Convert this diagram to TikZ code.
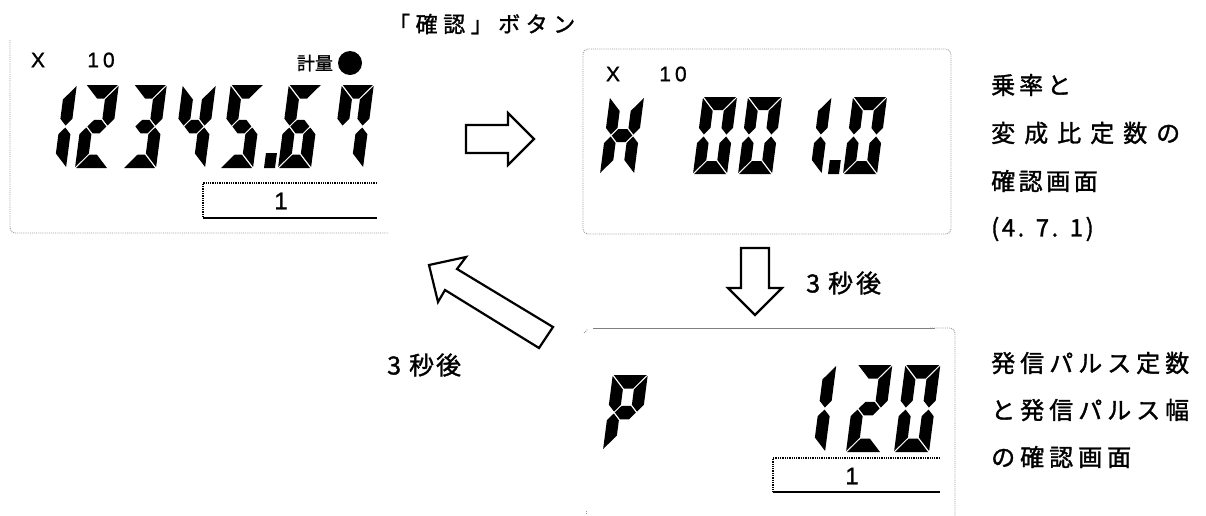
\documentclass[tikz,border=0pt]{standalone}
\usepackage{fontspec}
\setmainfont{Liberation Sans}[FakeBold=1.2]
\newfontfamily\jpf{Noto Sans CJK JP}[FakeBold=1.4]
\newdimen\lspamt
\def\lsp#1#2{\lspamt=#1pt\relax\lspaux#2\relax}
\def\lspaux#1{\ifx#1\relax\else#1\kern\lspamt\expandafter\lspaux\fi}
\def\slantk{-0.13}
% seven segment pieces (local coords, v up); Tv vertical, Th horizontal, Tm middle thickness
\newcommand\SgA{\fill ({\dg},{\dH}) -- ({\dW-\dg},{\dH}) -- ({\dW-\dTv-\dg},{\dH-\dTh}) -- ({\dTv+\dg},{\dH-\dTh}) -- cycle;}
\newcommand\SgD{\fill ({\dg},0) -- ({\dW-\dg},0) -- ({\dW-\dTv-\dg},{\dTh}) -- ({\dTv+\dg},{\dTh}) -- cycle;}
\newcommand\SgF{\fill (0,{\dH-\dg}) -- ({\dTv},{\dH-\dTh-\dg}) -- ({\dTv},{\dHh+\dTm/2+\dg}) -- ({\dTv/2},{\dHh+\dg}) -- (0,{\dHh+\dTm/2+\dg}) -- cycle;}
\newcommand\SgE{\fill (0,{\dg}) -- ({\dTv},{\dTh+\dg}) -- ({\dTv},{\dHh-\dTm/2-\dg}) -- ({\dTv/2},{\dHh-\dg}) -- (0,{\dHh-\dTm/2-\dg}) -- cycle;}
\newcommand\SgB{\fill ({\dW},{\dH-\dg}) -- ({\dW-\dTv},{\dH-\dTh-\dg}) -- ({\dW-\dTv},{\dHh+\dTm/2+\dg}) -- ({\dW-\dTv/2},{\dHh+\dg}) -- ({\dW},{\dHh+\dTm/2+\dg}) -- cycle;}
\newcommand\SgC{\fill ({\dW},{\dg}) -- ({\dW-\dTv},{\dTh+\dg}) -- ({\dW-\dTv},{\dHh-\dTm/2-\dg}) -- ({\dW-\dTv/2},{\dHh-\dg}) -- ({\dW},{\dHh-\dTm/2-\dg}) -- cycle;}
\newcommand\SgG{\fill ({\dTv/2+\dg},{\dHh}) -- ({\dTv+\dg},{\dHh+\dTm/2}) -- ({\dW-\dTv-\dg},{\dHh+\dTm/2}) -- ({\dW-\dTv/2-\dg},{\dHh}) -- ({\dW-\dTv-\dg},{\dHh-\dTm/2}) -- ({\dTv+\dg},{\dHh-\dTm/2}) -- cycle;}
\newcommand\SgP{\fill (0,0) rectangle ({\dW},{\dH});}
% \lcd{x0}{ybottom}{W}{H}{Tv}{Th}{segments}
\newcommand\lcd[7]{\begin{scope}[shift={(#1,#2)},yscale=-1,xslant=\slantk]
\def\dW{#3}\def\dH{#4}\def\dTv{#5}\def\dTh{#6}\def\dTm{#6}\def\dg{1.0}\pgfmathsetmacro\dHh{#4/2}#7\end{scope}}
\begin{document}
\begin{tikzpicture}[x=1pt,y=-1pt,
  panel/.style={draw=gray!80, densely dotted, line width=0.9pt},
  blockarrow/.style={draw=black, fill=white, line width=2.2pt, miter limit=10},
  lat/.style={font=\fontsize{21}{21}\selectfont, inner sep=0pt},
  boxone/.style={font=\fontsize{24}{24}\selectfont, inner sep=0pt},
  jpr/.style={font=\jpf\fontsize{24}{24}\selectfont, inner sep=0pt, anchor=west},
  jpb/.style={font=\jpf\fontsize{22}{22}\selectfont, inner sep=0pt, anchor=west},
  jps/.style={font=\jpf\fontsize{25}{25}\selectfont, inner sep=0pt, anchor=west},
  jpm/.style={font=\jpf\fontsize{18}{18}\selectfont, inner sep=0pt}]
\useasboundingbox (0,0) rectangle (1206,515);
% ---------- left panel ----------
\draw[panel, rounded corners=5pt] (10,40) -- (10,233) -- (388,233);
\node[lat] (lx) at (38,60) {X};
\node[lat] (l10) at (103,60) {\lsp{4}{10}};
\node[jpm] (keiryo) at (315,63) {計量};
\fill (350,63) circle (12);
\lcd{54}{168}{12}{83}{12}{13.5}{\SgB\SgC}
\lcd{75}{168}{33}{83}{12}{13.5}{\SgA\SgB\SgG\SgE\SgD}
\lcd{123}{168}{33}{83}{12}{13.5}{\SgA\SgB\SgG\SgC\SgD}
\lcd{172}{168}{33}{83}{12}{13.5}{\SgF\SgG\SgB\SgC}
\lcd{220}{168}{33}{83}{12}{13.5}{\SgA\SgF\SgG\SgC\SgD}
\lcd{264}{168}{11}{15}{10}{10}{\SgP}
\lcd{278}{168}{33}{83}{12}{13.5}{\SgA\SgF\SgG\SgE\SgD\SgC}
\lcd{331}{168}{32}{83}{12}{13.5}{\SgA\SgF\SgB\SgC}
\draw[densely dotted, line width=1.3pt] (377,183) -- (203,183) -- (203,218);
\draw[line width=1.8pt] (203,218) -- (377,218);
\node[boxone] (lone) at (281,201) {1};
% ---------- top label ----------
\node[jpb] (btn) at (388,24) {\lsp{5.5}{「確認」ボタン}};
% ---------- top right panel ----------
\draw[panel, rounded corners=5pt] (583,49) rectangle (951,234);
\node[lat] (rx) at (613,74) {X};
\node[lat] (r10) at (675,74) {\lsp{4}{10}};
\lcd{600}{174}{34}{77}{11.5}{13}{\SgF\SgE\SgB\SgC\SgG}
\lcd{693}{174}{34}{77}{11.5}{13}{\SgA\SgB\SgC\SgD\SgE\SgF}
\lcd{738}{174}{34}{77}{11.5}{13}{\SgA\SgB\SgC\SgD\SgE\SgF}
\lcd{810}{174}{11.5}{77}{11.5}{13}{\SgB\SgC}
\lcd{828}{174}{11}{14}{10}{10}{\SgP}
\lcd{843}{174}{34}{77}{11.5}{13}{\SgA\SgB\SgC\SgD\SgE\SgF}
% ---------- right texts ----------
\node[jpr] (t1) at (991,85) {\lsp{4}{乗率と}};
\node[jpr] (t2) at (991,133) {\lsp{9}{変成比定数の}};
\node[jpr] (t3) at (991,181) {\lsp{3.5}{確認画面}};
\node[jpr] (t4) at (991,229) {\lsp{2.5}{(4.}\kern9pt\lsp{2.5}{7.}\kern9pt\lsp{2.5}{1)}};
\node[jpr] (t5) at (991,363) {\lsp{5}{発信パルス定数}};
\node[jpr] (t6) at (991,410) {\lsp{5}{と発信パルス幅}};
\node[jpr] (t7) at (991,457) {\lsp{5}{の確認画面}};
% ---------- arrows ----------
\draw[blockarrow] (466,125) -- (508,125) -- (508,113) -- (534,139) -- (508,165) -- (508,153) -- (466,153) -- cycle;
\draw[blockarrow] (741,248) -- (769,248) -- (769,288) -- (782,288) -- (755,315) -- (728,288) -- (741,288) -- cycle;
\draw[blockarrow] (429,265) -- (466,257) -- (457,269) -- (553,327) -- (539,348) -- (445,290) -- (438,302) -- cycle;
\node[jps] (s1) at (806,283) {3\kern8pt\lsp{3}{秒後}};
\node[jps] (s2) at (387,365) {3\kern8pt\lsp{2}{秒後}};
% ---------- bottom panel ----------
\draw[gray, line width=1pt] (593,328) -- (935,328);
\draw[panel, rounded corners=5pt] (930,328) -- (955,328) -- (955,516);
\draw[panel] (584,333) -- (588,329);
\draw[panel] (586,511) -- (586,514);
\lcd{603}{450}{35}{75}{12}{13.5}{\SgA\SgB\SgF\SgG\SgE}
\lcd{813}{452}{12}{87}{12}{13.5}{\SgB\SgC}
\lcd{846}{452}{35}{87}{12}{13.5}{\SgA\SgB\SgG\SgE\SgD}
\lcd{894}{452}{35}{87}{12}{13.5}{\SgA\SgB\SgC\SgD\SgE\SgF}
\draw[densely dotted, line width=1.3pt] (940,458) -- (773,458) -- (773,492);
\draw[line width=1.8pt] (773,492) -- (940,492);
\node[boxone] (bone) at (852,476) {1};
\end{tikzpicture}
\end{document}
